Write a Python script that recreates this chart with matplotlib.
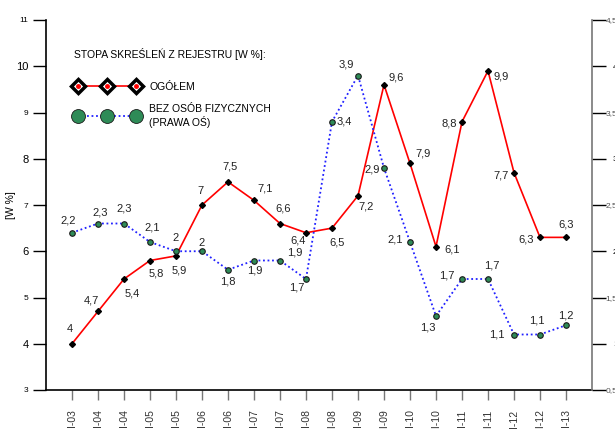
import matplotlib.pyplot as plt
from matplotlib.lines import Line2D
from matplotlib.legend_handler import HandlerTuple

plt.rcParams['font.family'] = ['Liberation Sans', 'DejaVu Sans']

okresy = ["I-03", "I-04", "I-04", "I-05", "I-05", "I-06", "I-06", "I-07", "I-07", "I-08",
          "II-08", "I-09", "II-09", "I-10", "II-10", "I-11", "II-11", "I-12", "II-12", "I-13"]
ogolem = [4, 4.7, 5.4, 5.8, 5.9, 7, 7.5, 7.1, 6.6, 6.4,
          6.5, 7.2, 9.6, 7.9, 6.1, 8.8, 9.9, 7.7, 6.3, 6.3]
bez_osob = [2.2, 2.3, 2.3, 2.1, 2, 2, 1.8, 1.9, 1.9, 1.7,
            3.4, 3.9, 2.9, 2.1, 1.3, 1.7, 1.7, 1.1, 1.1, 1.2]

# przesuniecia etykiet (piksele: x w prawo, y w gore)
off_ogolem = [(-2, 15), (-7, 11), (8, -14), (6, -13), (3, -15), (-2, 14), (2, 15), (11, 12),
              (3, 15), (-8, -8), (5, -14), (8, -11), (12, 7), (13, 10), (16, -3), (-13, -2),
              (13, -6), (-13, -3), (-14, -2), (0, 13)]
off_bez = [(-4, 12), (2, 11), (0, 15), (2, 14), (0, 13), (0, 8), (0, -12), (1, -10),
           (15, 8), (-9, -9), (12, 0), (-12, 11), (-12, -1), (-15, 2), (-8, -12), (-15, 3),
           (4, 14), (-17, 0), (-3, 14), (0, 10)]


def fmt(v):
    return f"{v:g}".replace('.', ',')


x = list(range(len(okresy)))

fig = plt.figure(figsize=(6.15, 4.29), dpi=100)
ax = fig.add_axes([46 / 615, 39 / 429, 546 / 615, 370 / 429])
ax2 = ax.twinx()

ax.plot(x, ogolem, color='red', lw=1.2, marker='D', ms=3, mfc='black', mec='black', zorder=3)
ax2.plot(x, bez_osob, color='#2020ff', lw=1.3, ls=(0, (1, 1.5)), marker='o', ms=4,
         mfc='#2e8b57', mec='#1a1a1a', mew=0.8, zorder=3)

for xi, v, o in zip(x, ogolem, off_ogolem):
    ax.annotate(fmt(v), (xi, v), xytext=o, textcoords='offset pixels',
                ha='center', va='center', fontsize=8, color='#222222')
for xi, v, o in zip(x, bez_osob, off_bez):
    ax2.annotate(fmt(v), (xi, v), xytext=o, textcoords='offset pixels',
                 ha='center', va='center', fontsize=8, color='#222222')

ax.set_xlim(-1, 20)
ax.set_ylim(3, 11)
ax2.set_ylim(0.5, 4.5)

ax.set_xticks(x)
ax.set_xticklabels(okresy, rotation=90, fontsize=7.5, color='#333333')
ax.tick_params(axis='x', length=7, width=1, color='#777777', pad=7)

ax.set_yticks(range(3, 12))
ax.tick_params(axis='y', length=9.5, width=1, pad=3)
for t, v in zip(ax.yaxis.get_major_ticks(), range(3, 12)):
    if v % 2:
        t.tick1line.set_color('#777777')
        t.label1.set_fontsize(6)
    else:
        t.label1.set_fontsize(8)

ax2.set_yticks([0.5, 1, 1.5, 2, 2.5, 3, 3.5, 4, 4.5])
ax2.set_yticklabels(['0,5', '1', '1,5', '2', '2,5', '3', '3,5', '4', '4,5'], fontsize=6)
ax2.tick_params(axis='y', length=10, width=1, pad=8.5)
for t, v in zip(ax2.yaxis.get_major_ticks(), [0.5, 1, 1.5, 2, 2.5, 3, 3.5, 4, 4.5]):
    t.label2.set_ha('right')
    if v % 1:
        t.tick2line.set_color('#777777')
        t.label2.set_color('#555555')

ax.set_ylabel('[W %]', fontsize=7.5, labelpad=8)
ax.yaxis.set_label_coords(-0.055, 0.5)

ax.spines['top'].set_visible(False)
ax2.spines['top'].set_visible(False)
ax2.spines['left'].set_visible(False)
ax2.spines['bottom'].set_visible(False)
ax.spines['right'].set_visible(False)
ax2.spines['right'].set_color('#777777')
ax2.spines['right'].set_linewidth(1.2)
ax.spines['left'].set_linewidth(1.2)
ax.spines['bottom'].set_linewidth(1.2)

h1 = (Line2D([], [], color='red', lw=1.2, marker='D', ms=7, mfc='white', mec='black', mew=2.5),
      Line2D([], [], ls='none', marker='o', ms=2.5, color='red'))
h2 = Line2D([], [], color='#2020ff', lw=1.3, ls=(0, (1, 1.5)), marker='o', ms=10,
            mfc='#2e8b57', mec='#1a1a1a', mew=0.6)
leg = ax2.legend([h1, h2], ['OGÓŁEM', 'BEZ OSÓB FIZYCZNYCH\n(PRAWA OŚ)'],
                 handler_map={tuple: HandlerTuple(ndivide=1)},
                 title='STOPA SKREŚLEŃ Z REJESTRU [W %]:', title_fontsize=7.5,
                 alignment='left', fontsize=7.5, numpoints=3, frameon=False,
                 handlelength=6.2, handletextpad=1.0, labelspacing=1.1,
                 loc='upper left', bbox_to_anchor=(0.035, 0.95))
leg._legend_box.sep = 16

fig.savefig('out.png', dpi=100)
